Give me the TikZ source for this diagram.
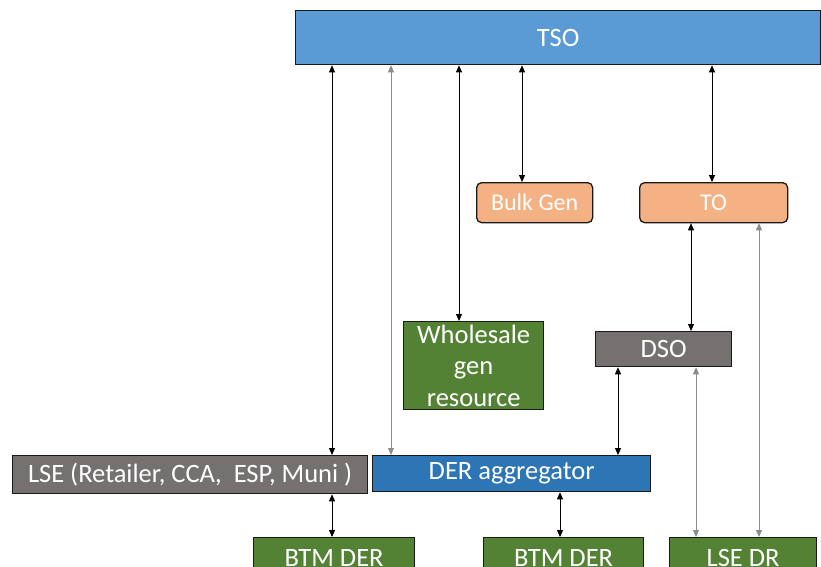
\documentclass[tikz,border=0pt]{standalone}
\usepackage{fontspec}
\setmainfont{Carlito}
\usetikzlibrary{arrows.meta,calc}
\definecolor{tsoblue}{HTML}{5B9BD5}
\definecolor{aggblue}{HTML}{2E75B6}
\definecolor{boxgray}{HTML}{767171}
\definecolor{boxgreen}{HTML}{548235}
\definecolor{boxorange}{HTML}{F4B183}
\definecolor{edgedark}{HTML}{1A1A1A}
\definecolor{lightline}{HTML}{8C8C8C}
\tikzset{
  box/.style={draw=edgedark, line width=1.3pt, text=white, anchor=north west, inner sep=0pt, font=\fontsize{26.5}{31.5}\selectfont, align=center},
  rbox/.style={box, rounded corners=5pt, font=\fontsize{24}{29}\selectfont},
  arr/.style={{Triangle[length=7pt,width=6pt]}-{Triangle[length=7pt,width=6pt]}, line width=0.8pt, black},
  garr/.style={arr, draw=lightline, line width=0.9pt},
}
\begin{document}
\begin{tikzpicture}[x=1pt,y=-1pt]
\useasboundingbox (0,0) rectangle (821,566);
\clip (0,0) rectangle (821,566);
\node[box, fill=tsoblue, minimum width=525pt, minimum height=54pt] (tso) at (295,10) {TSO};
\node[rbox, fill=boxorange, minimum width=116pt, minimum height=40pt] (bulk) at (476,182) {Bulk Gen};
\node[rbox, fill=boxorange, minimum width=148pt, minimum height=40pt] (to) at (639,182) {TO};
\node[box, fill=boxgreen, minimum width=140pt, minimum height=88pt] (whole) at (403,321) {Wholesale\\gen\\resource};
\node[box, fill=boxgray, minimum width=136pt, minimum height=35pt] (dso) at (595,331) {DSO};
\node[box, fill=boxgray, minimum width=355pt, minimum height=38pt] (lse) at (12,455) {LSE (Retailer, CCA, \ ESP, Muni )};
\node[box, fill=aggblue, minimum width=278pt, minimum height=36pt] (agg) at (372,455) {DER aggregator};
\node[box, fill=boxgreen, minimum width=161pt, minimum height=40pt] (btma) at (253,537) {BTM DER};
\node[box, fill=boxgreen, minimum width=160pt, minimum height=40pt] (btmb) at (483,537) {BTM DER};
\node[box, fill=boxgreen, minimum width=147pt, minimum height=40pt] (lsedr) at (669,537) {LSE DR};

\draw[arr] (332,0 |- tso.south) -- (332,0 |- lse.north);
\draw[garr] (391,0 |- tso.south) -- (391,0 |- agg.north);
\draw[arr] (459,0 |- tso.south) -- (459,0 |- whole.north);
\draw[arr] (522,0 |- tso.south) -- (522,0 |- bulk.north);
\draw[arr] (712,0 |- tso.south) -- (712,0 |- to.north);
\draw[arr] (691,0 |- to.south) -- (691,0 |- dso.north);
\draw[garr] (759,0 |- to.south) -- (759,0 |- lsedr.north);
\draw[arr] (618,0 |- dso.south) -- (618,0 |- agg.north);
\draw[garr] (696,0 |- dso.south) -- (696,0 |- lsedr.north);
\draw[arr] (332,0 |- lse.south) -- (332,0 |- btma.north);
\draw[arr] (560,0 |- agg.south) -- (560,0 |- btmb.north);
\end{tikzpicture}
\end{document}
